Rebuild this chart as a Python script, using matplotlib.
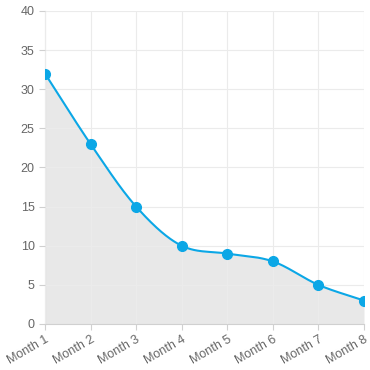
import numpy as np
import matplotlib
matplotlib.use('Agg')
import matplotlib.pyplot as plt

months = ['Month 1', 'Month 2', 'Month 3', 'Month 4', 'Month 5', 'Month 6', 'Month 7', 'Month 8']
values = [32, 23, 15, 10, 9, 8, 5, 3]
y_ticks = [0, 5, 10, 15, 20, 25, 30, 35, 40]

line_colour = '#0ba7e6'
fill_colour = '#e8e8e8'
grid_colour = '#ebebeb'
text_colour = '#666666'

plt.rcParams['font.family'] = ['Liberation Sans', 'DejaVu Sans']


def monotone_curve(x, y, steps=40):
    # Fritsch-Carlson monotone cubic, like chart.js cubicInterpolationMode 'monotone'
    x = np.asarray(x, dtype=float)
    y = np.asarray(y, dtype=float)
    n = len(x)
    dx = np.diff(x)
    delta = np.diff(y) / dx
    m = np.zeros(n)
    m[0] = delta[0]
    m[-1] = delta[-1]
    for i in range(1, n - 1):
        m[i] = 0 if delta[i - 1] * delta[i] <= 0 else (delta[i - 1] + delta[i]) / 2
    for i in range(n - 1):
        if delta[i] == 0:
            m[i] = m[i + 1] = 0
            continue
        a = m[i] / delta[i]
        b = m[i + 1] / delta[i]
        s = a * a + b * b
        if s > 9:
            t = 3 / np.sqrt(s)
            m[i] = t * a * delta[i]
            m[i + 1] = t * b * delta[i]
    xs, ys = [], []
    for i in range(n - 1):
        t = np.linspace(0, 1, steps, endpoint=(i == n - 2))
        h00 = 2 * t**3 - 3 * t**2 + 1
        h10 = t**3 - 2 * t**2 + t
        h01 = -2 * t**3 + 3 * t**2
        h11 = t**3 - t**2
        xs.append(x[i] + t * dx[i])
        ys.append(h00 * y[i] + h10 * dx[i] * m[i] + h01 * y[i + 1] + h11 * dx[i] * m[i + 1])
    return np.concatenate(xs), np.concatenate(ys)


x = np.arange(len(months))
xs, ys = monotone_curve(x, values)

fig = plt.figure(figsize=(3.7, 3.7), dpi=100)
ax = fig.add_axes([45 / 370, 46 / 370, 319 / 370, 313 / 370])

ax.fill_between(xs, 0, ys, color=fill_colour, linewidth=0, zorder=1)
ax.plot(xs, ys, color=line_colour, linewidth=1.5, zorder=3, solid_capstyle='round')
ax.plot(x, values, 'o', color=line_colour, markersize=7, zorder=4)

ax.set_xlim(0, len(months) - 1)
ax.set_ylim(0, 40)
ax.set_yticks(y_ticks)
ax.set_xticks(x)
ax.set_xticklabels(months, rotation=30, ha='right', rotation_mode='anchor')

ax.grid(True, color=grid_colour, linewidth=0.8, zorder=2)
ax.set_axisbelow(False)
for side in ['top', 'right']:
    ax.spines[side].set_visible(False)
for side in ['left', 'bottom']:
    ax.spines[side].set_color('#d0d0d0')
    ax.spines[side].set_linewidth(0.8)

ax.tick_params(axis='both', colors='#d0d0d0', labelcolor=text_colour, labelsize=9, length=4, width=0.8)
ax.tick_params(axis='x', pad=3)

fig.savefig('out.png', dpi=100, facecolor='white')
